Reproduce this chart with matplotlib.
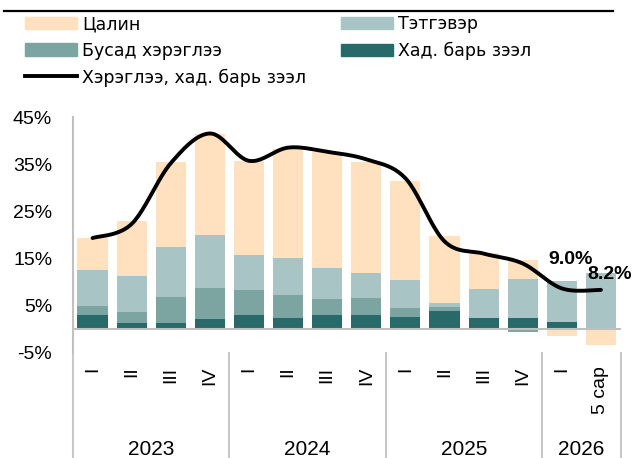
import numpy as np
import matplotlib.pyplot as plt
from matplotlib.patches import Patch
from matplotlib.lines import Line2D
from matplotlib import transforms

# data (percent contribution)
quarters = ['I', 'II', 'III', 'IV', 'I', 'II', 'III', 'IV', 'I', 'II', 'III', 'IV', 'I', '5 сар']
years = ['2023', '2024', '2025', '2026']
year_spans = [(0, 3), (4, 7), (8, 11), (12, 13)]

khad = [2.9, 1.2, 1.2, 2.1, 2.9, 2.4, 2.9, 2.9, 2.6, 3.8, 2.3, 2.4, 1.5, 0.1]
busad = [1.9, 2.4, 5.6, 6.6, 5.3, 4.8, 3.4, 3.6, 1.9, 0.8, 0.0, -0.7, 0.0, 0.0]
tetgever = [7.7, 7.6, 10.6, 11.2, 7.6, 7.9, 6.6, 5.3, 5.9, 0.9, 6.2, 8.3, 8.7, 11.7]
tsalin = [6.8, 11.8, 18.1, 21.4, 19.8, 23.1, 24.6, 23.7, 21.0, 14.2, 7.7, 4.0, -1.5, -3.5]
total = [19.3, 22.3, 35.2, 41.5, 35.7, 38.5, 37.6, 36.0, 32.0, 18.6, 16.0, 13.9, 8.6, 8.3]
end_labels = ['9.0%', '8.2%']

series = [
    ('Хад. барь зээл', khad, '#286a69'),
    ('Бусад хэрэглээ', busad, '#7ca5a2'),
    ('Тэтгэвэр', tetgever, '#a9c4c4'),
    ('Цалин', tsalin, '#ffe0bf'),
]

tick_font = ['Liberation Sans', 'DejaVu Sans']
legend_font = ['DejaVu Sans']


def smooth(xs, ys, n=24):
    # excel-style smoothed line (bezier through the points)
    p = np.column_stack([xs, ys]).astype(float)
    out = [p[0]]
    for i in range(len(p) - 1):
        p0 = p[i - 1] if i > 0 else p[i]
        p3 = p[i + 2] if i + 2 < len(p) else p[i + 1]
        c1 = p[i] + (p[i + 1] - p0) / 6
        c2 = p[i + 1] - (p3 - p[i]) / 6
        t = np.linspace(0, 1, n)[1:, None]
        seg = ((1 - t) ** 3) * p[i] + 3 * ((1 - t) ** 2) * t * c1 \
            + 3 * (1 - t) * t ** 2 * c2 + t ** 3 * p[i + 1]
        out.extend(seg)
    out = np.array(out)
    return out[:, 0], out[:, 1]


fig = plt.figure(figsize=(6.36, 4.58), dpi=100)
ax = fig.add_axes([73 / 636, 1 - 352.5 / 458, 547.5 / 636, 235.5 / 458])

x = np.arange(len(quarters))
pos_bottom = np.zeros(len(x))
neg_bottom = np.zeros(len(x))
for name, vals, color in series:
    v = np.array(vals)
    bottom = np.where(v >= 0, pos_bottom, neg_bottom)
    ax.bar(x, v, bottom=bottom, width=0.77, color=color, zorder=2)
    pos_bottom += np.where(v >= 0, v, 0)
    neg_bottom += np.where(v < 0, v, 0)

ax.axhline(0, color='#bfbfbf', lw=1.5, zorder=3)

lx, ly = smooth(x, total)
ax.plot(lx, ly, color='black', lw=2.8, solid_capstyle='round', zorder=4)

ax.annotate(end_labels[0], (x[-2], total[-2]), xytext=(6, 21), textcoords='offset points',
            ha='center', va='center', fontsize=14, fontweight='bold', family=tick_font, zorder=5)
ax.annotate(end_labels[1], (x[-1], total[-1]), xytext=(6, 11), textcoords='offset points',
            ha='center', va='center', fontsize=14, fontweight='bold', family=tick_font, zorder=5)

ax.set_xlim(-0.5, len(x) - 0.5)
ax.set_ylim(-5, 45)
ax.set_yticks([-5, 5, 15, 25, 35, 45])
ax.set_yticklabels([f'{t}%' for t in [-5, 5, 15, 25, 35, 45]], family=tick_font, fontsize=14)
ax.tick_params(axis='y', length=0, pad=15)
ax.set_xticks(x)
ax.set_xticklabels(quarters, rotation=90, family=tick_font, fontsize=14)
ax.tick_params(axis='x', length=0, pad=10)

for s in ['top', 'right', 'bottom']:
    ax.spines[s].set_visible(False)
ax.spines['left'].set_color('#c0c0c0')
ax.spines['left'].set_linewidth(1.5)

# category separators under the axis
trans = transforms.blended_transform_factory(ax.transData, ax.transAxes)
for xs in [-0.5, 3.5, 7.5, 11.5, 13.5]:
    ax.plot([xs, xs], [0, -0.46], transform=trans, color='#c8c8c8', lw=1.5, clip_on=False)
for yr, (a, b) in zip(years, year_spans):
    ax.text((a + b) / 2, -0.41, yr, transform=trans, ha='center', va='center',
            family=tick_font, fontsize=15)

# legend
handles = [
    Patch(color='#ffe0bf', label='Цалин'),
    Patch(color='#7ca5a2', label='Бусад хэрэглээ'),
    Line2D([], [], color='black', lw=2.8, label='Хэрэглээ, хад. барь зээл'),
    Patch(color='#a9c4c4', label='Тэтгэвэр'),
    Patch(color='#286a69', label='Хад. барь зээл'),
]
fig.legend(handles=handles, ncol=2, loc='upper left', bbox_to_anchor=(25 / 636, 1 - 15 / 458),
           frameon=False, borderpad=0, borderaxespad=0, handlelength=3.0, handleheight=0.72,
           handletextpad=0.3, labelspacing=0.5, columnspacing=2.0,
           prop={'family': legend_font, 'size': 12.5})

fig.add_artist(Line2D([4 / 636, 613 / 636], [1 - 11 / 458, 1 - 11 / 458], color='black', lw=1.6))

fig.savefig('out.png', dpi=100)
